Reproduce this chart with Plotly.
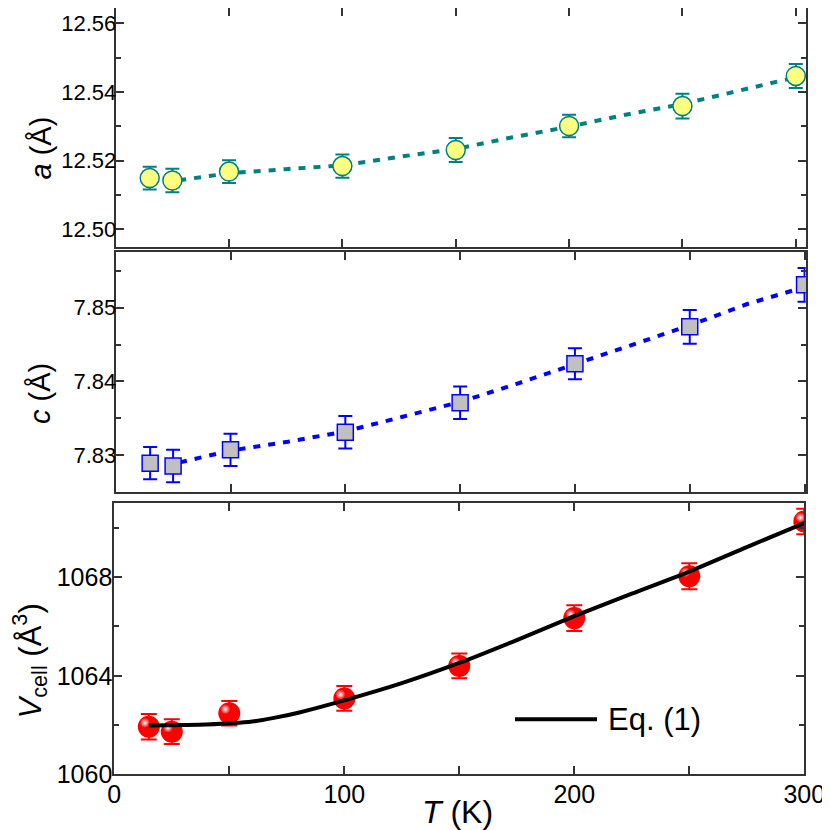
import plotly.graph_objects as go

# ---------------- data ----------------
T = [15, 25, 50, 100, 150, 200, 250, 300]

a_vals = [12.5149, 12.5142, 12.5168, 12.5184, 12.5231, 12.5301, 12.5359, 12.5447]
a_err = [0.0033, 0.0034, 0.0033, 0.0034, 0.0035, 0.0033, 0.0036, 0.0035]
a_fit_T = [28, 50, 75, 100, 125, 150, 175, 200, 225, 250, 275, 300]
a_fit = [12.5143, 12.5163, 12.5175, 12.5186, 12.5211, 12.5234, 12.5268, 12.5299,
         12.5334, 12.5365, 12.5404, 12.5443]

c_vals = [7.8289, 7.8285, 7.8307, 7.8331, 7.8371, 7.8424, 7.8474, 7.8531]
c_err = [0.0022, 0.0022, 0.0022, 0.0022, 0.0022, 0.0021, 0.0023, 0.0023]
c_fit_T = [28, 37, 50, 75, 100, 125, 150, 175, 200, 225, 250, 275, 300]
c_fit = [7.8290, 7.8296, 7.8306, 7.8318, 7.8332, 7.8352, 7.8372, 7.8397, 7.8423,
         7.8450, 7.8476, 7.8505, 7.8528]

V_vals = [1061.93, 1061.73, 1062.48, 1063.08, 1064.40, 1066.34, 1068.04, 1070.26]
V_err = [0.52, 0.50, 0.50, 0.50, 0.50, 0.52, 0.53, 0.52]
V_fit_T = [15, 40, 60, 70, 80, 100, 125, 150, 175, 200, 225, 250, 275, 300]
V_fit = [1061.98, 1062.02, 1062.14, 1062.30, 1062.50, 1063.00, 1063.70, 1064.52,
         1065.45, 1066.42, 1067.33, 1068.23, 1069.22, 1070.20]

x_tickvals = [0, 100, 200, 300]
legend_label = "Eq. (1)"

# ---------------- styling ----------------
OFF = 8            # page body margin (px) that the browser adds around the plot
W = H = 830 - OFF
FONT = "Liberation Sans, Arial, sans-serif"
TEAL = "#008080"
BLUE = "#0000FF"
RED = "#FF0000"
AXC = "#333333"


def px_x(p):
    return min(1.0, max(0.0, (p - OFF) / W))


def px_y(p):
    return min(1.0, max(0.0, 1 - (p - OFF) / H))


fig = go.Figure()

# --- panel a ---
fig.add_trace(go.Scatter(x=a_fit_T, y=a_fit, mode="lines",
                         line=dict(color=TEAL, width=4, dash="7px,8px"),
                         xaxis="x", yaxis="y", showlegend=False))
fig.add_trace(go.Scatter(x=T, y=a_vals, mode="markers",
                         marker=dict(symbol="circle", size=19, color="#FFFF80",
                                     line=dict(color=TEAL, width=1.5)),
                         error_y=dict(type="data", array=a_err, color=TEAL,
                                      thickness=2, width=7),
                         xaxis="x", yaxis="y", showlegend=False))

# --- panel c ---
fig.add_trace(go.Scatter(x=c_fit_T, y=c_fit, mode="lines",
                         line=dict(color=BLUE, width=4, dash="7px,8px"),
                         xaxis="x2", yaxis="y2", showlegend=False))
fig.add_trace(go.Scatter(x=T, y=c_vals, mode="markers",
                         marker=dict(symbol="square", size=16, color="#C0C0C0",
                                     line=dict(color=BLUE, width=1.5)),
                         error_y=dict(type="data", array=c_err, color=BLUE,
                                      thickness=2, width=7),
                         xaxis="x2", yaxis="y2", showlegend=False))

# --- panel V ---
fig.add_trace(go.Scatter(x=T, y=V_vals, mode="markers",
                         marker=dict(symbol="circle", size=22, color=RED,
                                     line=dict(width=0)),
                         error_y=dict(type="data", array=V_err, color=RED,
                                      thickness=2, width=8),
                         xaxis="x3", yaxis="y3", showlegend=False))
# specular highlight (small offset from each sphere centre)
fig.add_trace(go.Scatter(x=[t - 1.7 for t in T], y=[v + 0.16 for v in V_vals],
                         mode="markers",
                         marker=dict(symbol="circle", size=10, color=RED,
                                     gradient=dict(type="radial", color="white"),
                                     line=dict(width=0)),
                         hoverinfo="skip",
                         xaxis="x3", yaxis="y3", showlegend=False))
fig.add_trace(go.Scatter(x=V_fit_T, y=V_fit, mode="lines",
                         line=dict(color="black", width=4, shape="spline",
                                   smoothing=0.6),
                         xaxis="x3", yaxis="y3", showlegend=False))

common_axis = dict(showline=True, linecolor=AXC, linewidth=2, mirror="ticks",
                   ticks="inside", ticklen=8, tickwidth=1.5, tickcolor=AXC,
                   showgrid=False, zeroline=False, automargin=False)

xa = dict(common_axis, tickvals=x_tickvals,
          minor=dict(dtick=50, tick0=0, ticks="inside", ticklen=8,
                     tickwidth=1.5, tickcolor=AXC))

fig.update_layout(
    template="none",
    width=W, height=H,
    margin=dict(l=0, r=0, t=0, b=0, autoexpand=False),
    paper_bgcolor="white", plot_bgcolor="white",
    font=dict(family=FONT, color="black"),
    showlegend=False,
    xaxis=dict(xa, domain=[px_x(115.7), px_x(806)], range=[0, 304.5],
               showticklabels=False, anchor="y"),
    yaxis=dict(common_axis, domain=[px_y(246.7), px_y(8)],
               range=[12.4949, 12.5645], tick0=12.50, dtick=0.02,
               tickformat=".2f", tickfont=dict(size=22, family=FONT),
               ticklabelstandoff=-7,
               minor=dict(dtick=0.01, tick0=12.50, ticks="inside", ticklen=5,
                          tickwidth=1.5, tickcolor=AXC),
               anchor="x"),
    xaxis2=dict(xa, domain=[px_x(115.7), px_x(805.7)], range=[0, 300.5],
                showticklabels=False, anchor="y2"),
    yaxis2=dict(common_axis, domain=[px_y(492.3), px_y(252)],
                range=[7.82494, 7.85756], tick0=7.83, dtick=0.01,
                tickformat=".2f", tickfont=dict(size=22, family=FONT),
                ticklabelstandoff=-7,
                minor=dict(dtick=0.005, tick0=7.83, ticks="inside", ticklen=5,
                           tickwidth=1.5, tickcolor=AXC),
                anchor="x2"),
    xaxis3=dict(xa, domain=[px_x(114.3), px_x(804.3)], range=[0, 300],
                showticklabels=True, tickfont=dict(size=25, family=FONT),
                ticklabelstandoff=-3,
                anchor="y3"),
    yaxis3=dict(common_axis, domain=[px_y(774.3), px_y(503.3)],
                range=[1060, 1071.0], tick0=1060, dtick=4,
                tickfont=dict(size=25, family=FONT),
                ticklabelstandoff=-5,
                minor=dict(dtick=2, tick0=1060, ticks="inside", ticklen=5,
                           tickwidth=1.5, tickcolor=AXC),
                anchor="x3"),
)

ann = []
ann.append(dict(text="<i>a</i> (Å)", x=px_x(40), y=px_y(148.5), xref="paper",
                yref="paper", textangle=-90, showarrow=False,
                xanchor="center", yanchor="middle",
                font=dict(size=29, family=FONT, color="black")))
ann.append(dict(text="<i>c</i> (Å)", x=px_x(40), y=px_y(394), xref="paper",
                yref="paper", textangle=-90, showarrow=False,
                xanchor="center", yanchor="middle",
                font=dict(size=29, family=FONT, color="black")))
ann.append(dict(text="<i>V</i><sub>cell</sub> (Å<sup>3</sup>)", x=px_x(30),
                y=px_y(661.5), xref="paper", yref="paper", textangle=-90,
                showarrow=False, xanchor="center", yanchor="middle",
                font=dict(size=31, family=FONT, color="black")))
ann.append(dict(text="<i>T</i> (K)", x=px_x(457.5), y=px_y(812), xref="paper",
                yref="paper", showarrow=False, xanchor="center",
                yanchor="middle", font=dict(size=32, family=FONT, color="black")))
ann.append(dict(text=legend_label, x=px_x(606), y=px_y(719.3), xref="paper",
                yref="paper", showarrow=False, xanchor="left",
                yanchor="middle", font=dict(size=31, family=FONT, color="black")))
fig.update_layout(annotations=ann)

fig.add_shape(type="line", xref="paper", yref="paper",
              x0=px_x(515), x1=px_x(597), y0=px_y(719.3), y1=px_y(719.3),
              line=dict(color="black", width=4))

fig.write_html("out.html")
